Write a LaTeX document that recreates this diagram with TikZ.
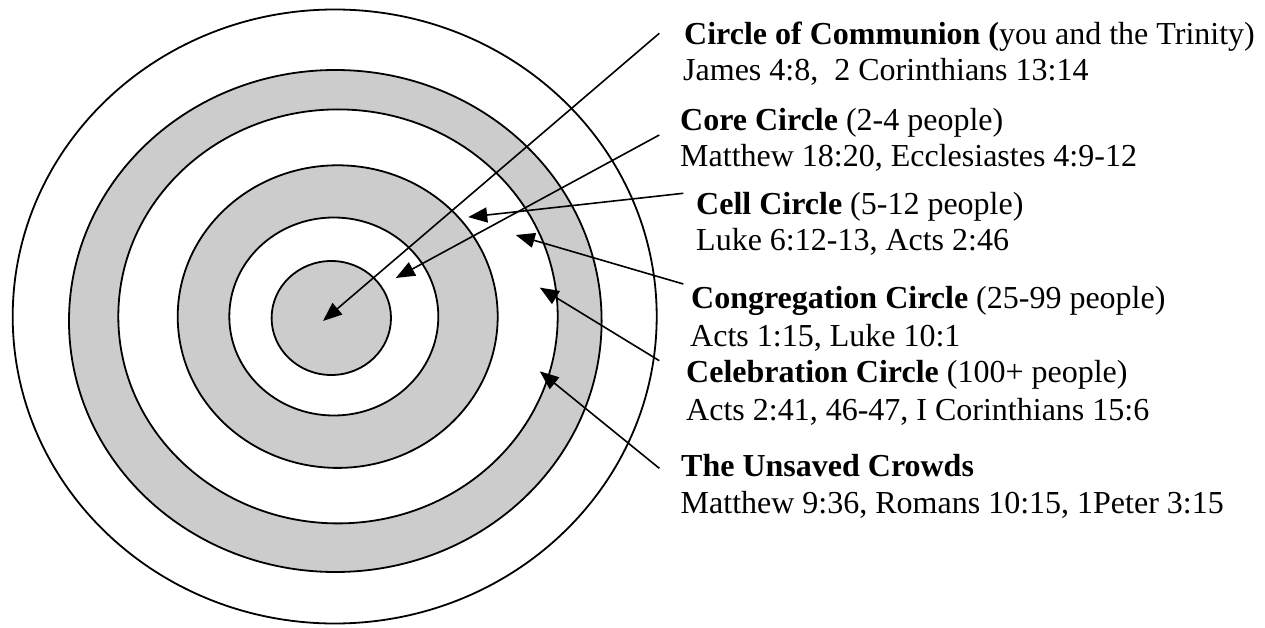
\documentclass[tikz,border=0pt]{standalone}
\usepackage{fontspec}
\setmainfont{Liberation Serif}
\usetikzlibrary{arrows.meta}
\begin{document}
\begin{tikzpicture}[x=1pt,y=-1pt,
  ring/.style={draw=black,line width=1.8pt},
  band/.style={ring,fill=bandgrey},
  hole/.style={ring,fill=white},
  pointer/.style={draw=black,line width=1.6pt,-{Triangle[length=19pt,width=15pt]}},
  lbl/.style={anchor=base west,inner sep=0pt,font=\fontsize{32}{36.8}\selectfont}]
\definecolor{bandgrey}{RGB}{204,204,204}
\useasboundingbox (0,0) rectangle (1265,628);
\fill[white] (0,0) rectangle (1265,628);
% rings
\path[hole] (334.7,316.5) ellipse [x radius=322pt, y radius=307pt];
\path[band] (335.3,321) ellipse [x radius=266.3pt, y radius=251pt];
\path[hole] (338,316.4) ellipse [x radius=219.7pt, y radius=207pt];
\path[band] (337.7,316.6) ellipse [x radius=160pt, y radius=151.3pt];
\path[hole] (333.8,316.5) ellipse [x radius=104.5pt, y radius=99pt];
\path[band] (331.3,318) ellipse [x radius=59.7pt, y radius=57pt];
% labels
\node[lbl] (comm1) at (684,44.3) {\textbf{Circle of Communion (}you and the Trinity)};
\node[lbl] (comm2) at (683,81) {James 4:8,\ \ 2 Corinthians 13:14};
\node[lbl] (core1) at (680,131) {\textbf{Core Circle} (2-4 people)};
\node[lbl] (core2) at (680,166.7) {Matthew 18:20, Ecclesiastes 4:9-12};
\node[lbl] (cell1) at (696,214.3) {\textbf{Cell Circle} (5-12 people)};
\node[lbl] (cell2) at (696,250.7) {Luke 6:12-13, Acts 2:46};
\node[lbl] (cong1) at (691,308) {\textbf{Congregation Circle} (25-99 people)};
\node[lbl] (cong2) at (690,346.7) {Acts 1:15, Luke 10:1};
\node[lbl] (cele1) at (686,382.7) {\textbf{Celebration Circle} (100+ people)};
\node[lbl] (cele2) at (686,420) {Acts 2:41, 46-47, I Corinthians 15:6};
\node[lbl] (uns1) at (681,476.7) {\textbf{The Unsaved Crowds}};
\node[lbl] (uns2) at (680.5,513.3) {Matthew 9:36, Romans 10:15, 1Peter 3:15};
% arrow ends
\coordinate (s1) at (659.3,33.3);   \coordinate (t1) at (323,321);
\coordinate (s2) at (659.3,135);    \coordinate (t2) at (395.8,278);
\coordinate (s3) at (683.3,193.3);  \coordinate (t3) at (468.2,217.1);
\coordinate (s4) at (683.3,284);    \coordinate (t4) at (515.8,235);
\coordinate (s5) at (659.3,360.7);  \coordinate (t5) at (539.8,287.6);
\coordinate (s6) at (659.3,468.3);  \coordinate (t6) at (539.8,371.3);
\draw[pointer] (s1) -- (t1);
\draw[pointer] (s2) -- (t2);
\draw[pointer] (s3) -- (t3);
\draw[pointer] (s4) -- (t4);
\draw[pointer] (s5) -- (t5);
\draw[pointer] (s6) -- (t6);
\end{tikzpicture}
\end{document}
